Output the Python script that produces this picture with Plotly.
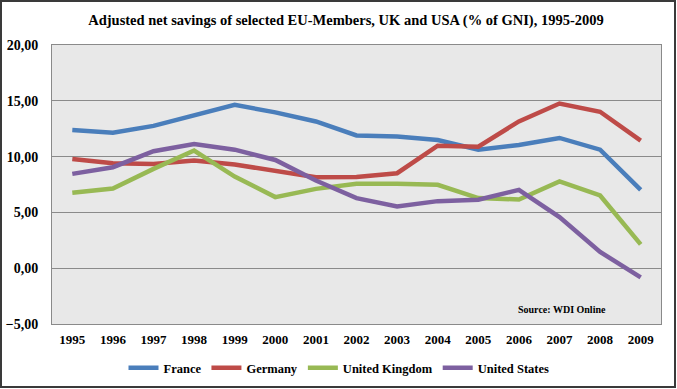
import plotly.graph_objects as go

years = [str(y) for y in range(1995, 2010)]
france = [12.38, 12.14, 12.75, 13.69, 14.64, 13.96, 13.15, 11.90, 11.79, 11.49, 10.62, 11.04, 11.67, 10.62, 7.02]
germany = [9.79, 9.40, 9.34, 9.64, 9.29, 8.75, 8.15, 8.18, 8.51, 10.98, 10.89, 13.15, 14.76, 14.02, 11.43]
uk = [6.76, 7.14, 8.90, 10.54, 8.21, 6.37, 7.11, 7.56, 7.56, 7.47, 6.28, 6.16, 7.77, 6.52, 2.14]
usa = [8.45, 9.05, 10.48, 11.13, 10.62, 9.70, 7.86, 6.28, 5.54, 6.01, 6.13, 7.02, 4.58, 1.46, -0.83]

series = [
    ("France", france, "#4A7EBB"),
    ("Germany", germany, "#BE4B48"),
    ("United Kingdom", uk, "#98B954"),
    ("United States", usa, "#7D60A0"),
]

W, H = 677, 389
L, R, T, B = 52, 16, 45, 65
pw, ph = W - L - R, H - T - B

font_family = "Liberation Serif"

fig = go.Figure()
for name, vals, color in series:
    fig.add_trace(go.Scatter(x=years, y=vals, name=name, mode="lines",
                             line=dict(color=color, width=4.5)))

fig.update_layout(
    width=W, height=H,
    margin=dict(l=L, r=R, t=T, b=B, autoexpand=False),
    paper_bgcolor="white",
    plot_bgcolor="#E8E8E8",
    separators=",.",
    font=dict(family=font_family, size=13, color="black", weight="bold"),
    title=dict(text="Adjusted net savings of selected EU-Members, UK and USA (% of GNI), 1995-2009",
               x=346 / W, xref="container", xanchor="center",
               y=1 - 20 / H, yref="container", yanchor="middle",
               font=dict(family=font_family, size=14.5, color="black", weight="bold")),
    showlegend=True,
    legend=dict(orientation="h", x=339 / W, xref="container", xanchor="center",
                y=1 - 368 / H, yref="container", yanchor="middle",
                font=dict(family=font_family, size=12.5, color="black", weight="bold"),
                itemwidth=30, tracegroupgap=0, bgcolor="rgba(0,0,0,0)"),
    xaxis=dict(type="category", categoryorder="array", categoryarray=years,
               range=[-0.5, 14.5], showgrid=False, zeroline=False, automargin=False,
               ticks="outside", ticklen=3, tickcolor="rgba(0,0,0,0)",
               showline=True, linecolor="#8A8A8A", linewidth=1, mirror=True,
               tickfont=dict(family=font_family, size=13, weight="bold")),
    xaxis2=dict(type="category", categoryorder="array", categoryarray=years,
                range=[-0.5, 14.5], overlaying="x", anchor="free", position=0.2,
                showgrid=False, zeroline=False, showticklabels=False, automargin=False,
                ticks="outside", ticklen=4, tickcolor="#8A8A8A", tickwidth=1,
                showline=False),
    yaxis=dict(range=[-5, 20], dtick=5, tick0=-5, tickformat=".2f", automargin=False,
               showgrid=True, gridcolor="#8A8A8A", gridwidth=1,
               zeroline=True, zerolinecolor="#8A8A8A", zerolinewidth=1,
               showline=True, linecolor="#8A8A8A", linewidth=1, mirror=True,
               ticks="outside", ticklen=10, tickcolor="rgba(0,0,0,0)",
               tickfont=dict(family=font_family, size=14, weight="bold")),
)

fig.add_annotation(text="Source: WDI Online", xref="paper", yref="paper",
                   x=(608 - L) / pw, y=(324 - 309) / ph, xanchor="right", yanchor="middle",
                   showarrow=False,
                   font=dict(family=font_family, size=10, color="black", weight="bold"))

# outer frame
fig.add_shape(type="rect", xref="paper", yref="paper",
              x0=(1 - L) / pw, x1=(675 - L) / pw,
              y0=(H - 387 - B) / ph, y1=(H - 1 - B) / ph,
              line=dict(color="#3A3A3A", width=2), fillcolor="rgba(0,0,0,0)", layer="above")

fig.write_html("out.html", config={"displayModeBar": False},
               post_script="document.body.style.margin='0';document.body.style.overflow='hidden';")
